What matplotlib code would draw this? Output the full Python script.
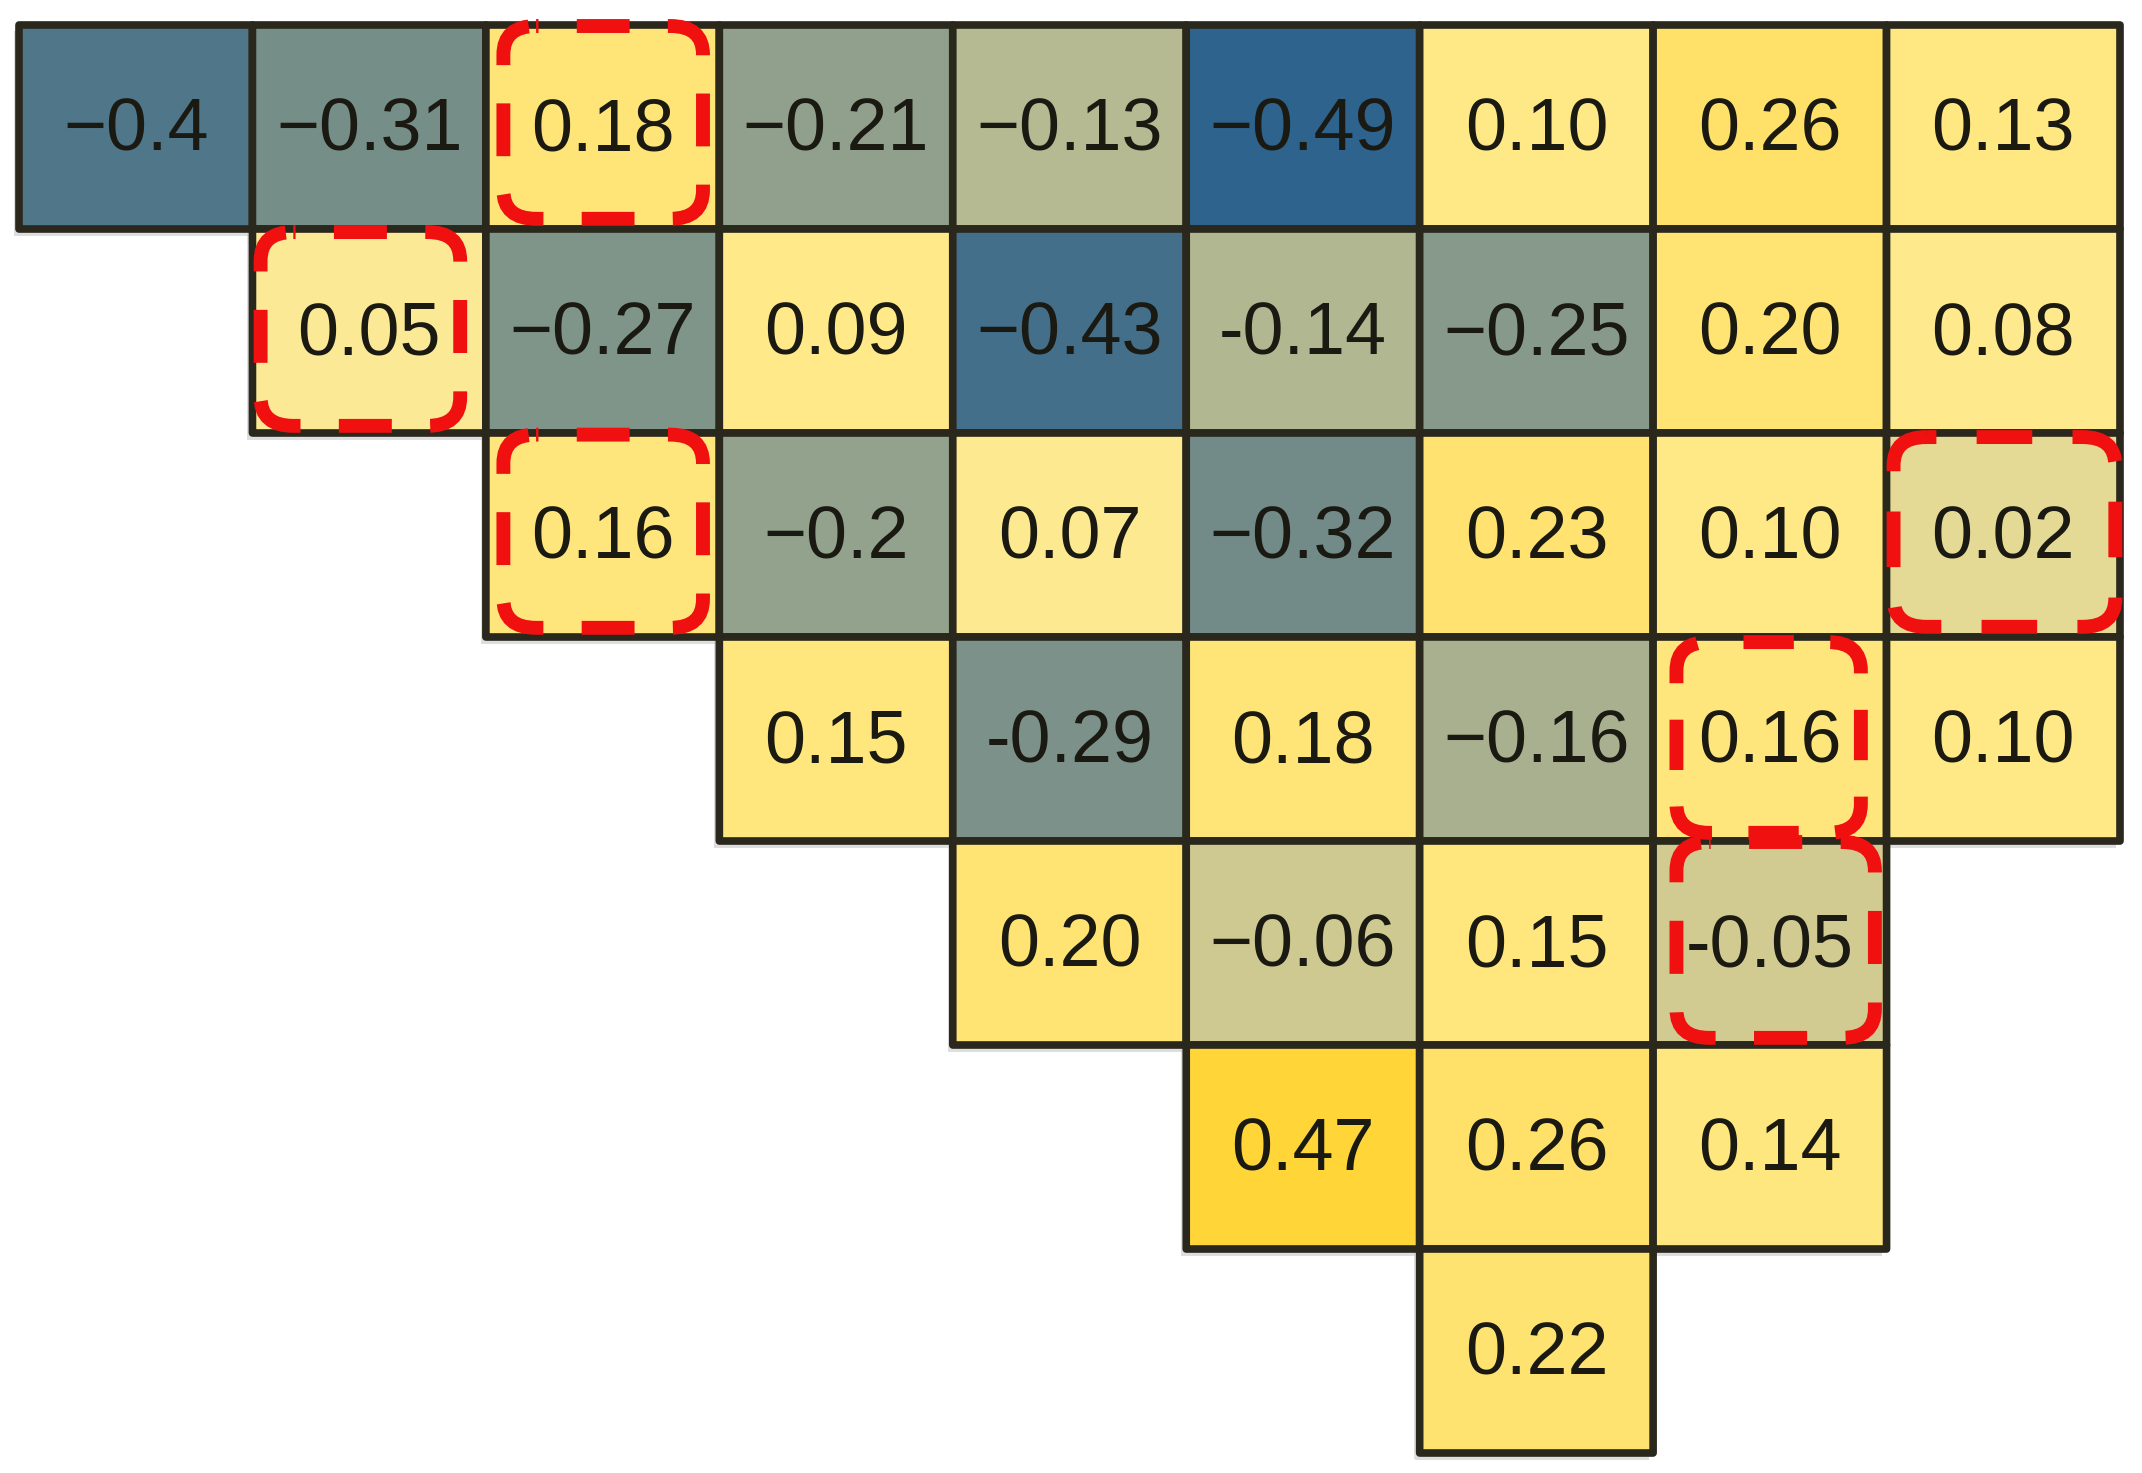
import numpy as np
import matplotlib
matplotlib.use("Agg")
import matplotlib.pyplot as plt
from matplotlib.colors import LinearSegmentedColormap, Normalize
from matplotlib.patches import FancyBboxPatch

# ---- data (upper-triangular matrix, each row starts at row_start column) ----
n_cols = 9
row_start = [0, 1, 2, 3, 4, 5, 6]
row0 = [-0.40, -0.31, 0.18, -0.21, -0.13, -0.49, 0.10, 0.26, 0.13]
row1 = [0.05, -0.27, 0.09, -0.43, -0.14, -0.25, 0.20, 0.08]
row2 = [0.16, -0.20, 0.07, -0.32, 0.23, 0.10, 0.02]
row3 = [0.15, -0.29, 0.18, -0.16, 0.16, 0.10]
row4 = [0.20, -0.06, 0.15, -0.05]
row5 = [0.47, 0.26, 0.14]
row6 = [0.22]

lab0 = ["\u22120.4", "\u22120.31", "0.18", "\u22120.21", "\u22120.13", "\u22120.49", "0.10", "0.26", "0.13"]
lab1 = ["0.05", "\u22120.27", "0.09", "\u22120.43", "-0.14", "\u22120.25", "0.20", "0.08"]
lab2 = ["0.16", "\u22120.2", "0.07", "\u22120.32", "0.23", "0.10", "0.02"]
lab3 = ["0.15", "-0.29", "0.18", "\u22120.16", "0.16", "0.10"]
lab4 = ["0.20", "\u22120.06", "0.15", "-0.05"]
lab5 = ["0.47", "0.26", "0.14"]
lab6 = ["0.22"]

rows = [row0, row1, row2, row3, row4, row5, row6]
labels = [lab0, lab1, lab2, lab3, lab4, lab5, lab6]

# highlighted cells (row, col)
highlight = [(0, 2), (1, 1), (2, 2), (2, 8), (3, 7), (4, 7)]
# insets of the dashed boxes (left, right, top, bottom) in cell units
hl_inset = [(0.075, 0.07, 0.005, 0.05), (0.035, 0.11, 0.015, 0.035),
            (0.075, 0.07, 0.008, 0.045), (0.03, 0.02, 0.02, 0.05),
            (0.10, 0.11, 0.025, 0.04), (0.10, 0.05, 0.005, 0.035)]

# ---- build matrix ----
n_rows = len(rows)
M = np.full((n_rows, n_cols), np.nan)
for r, (s, vals) in enumerate(zip(row_start, rows)):
    M[r, s:s + len(vals)] = vals
Mm = np.ma.masked_invalid(M)

cmap = LinearSegmentedColormap.from_list("bluyel", [
    (0.00, (42/255, 97/255, 140/255)),
    (0.10, (80/255, 118/255, 137/255)),
    (0.19, (118/255, 142/255, 136/255)),
    (0.30, (147/255, 162/255, 140/255)),
    (0.37, (182/255, 186/255, 146/255)),
    (0.45, (210/255, 203/255, 145/255)),
    (0.52, (228/255, 216/255, 150/255)),
    (0.55, (252/255, 234/255, 150/255)),
    (0.60, (255/255, 233/255, 134/255)),
    (0.75, (255/255, 225/255, 108/255)),
    (1.00, (255/255, 212/255, 50/255)),
])
norm = Normalize(-0.5, 0.5)

W, H = 2142, 1473
DPI = 100
fig = plt.figure(figsize=(W / DPI, H / DPI), dpi=DPI)
fig.patch.set_facecolor("white")
left, right, top, bottom = 19, 2120, 25, 1453
ax = fig.add_axes([left / W, 1 - bottom / H, (right - left) / W, (bottom - top) / H])
ax.set_xlim(0, n_cols)
ax.set_ylim(n_rows, 0)
ax.axis("off")
cw = (right - left) / n_cols   # px per x unit
ch = (bottom - top) / n_rows   # px per y unit

# faint shadow
sh = ax.pcolor(np.arange(n_cols + 1) - 0.02, np.arange(n_rows + 1) + 0.03, Mm,
               cmap=LinearSegmentedColormap.from_list("g", ["#c8c8cc", "#c8c8cc"]),
               edgecolors="none", zorder=0)
sh.set_clip_on(False)
sh.set_alpha(0.6)

pc = ax.pcolor(np.arange(n_cols + 1), np.arange(n_rows + 1), Mm, cmap=cmap, norm=norm,
               edgecolors="#2a281c", linewidth=5.5, zorder=1)
pc.set_clip_on(False)

for r, (s, labs) in enumerate(zip(row_start, labels)):
    for k, t in enumerate(labs):
        c = s + k
        ax.text(c + 0.5, r + 0.52, t, ha="center", va="center",
                fontsize=53, family=["Liberation Sans", "DejaVu Sans"],
                color="#1a1a12", zorder=3)

lw = 10.0
rr = 0.14  # rounding (x units)
for (r, c), (il, ir, it, ib) in zip(highlight, hl_inset):
    w = 1 - il - ir
    h = 1 - it - ib
    # perimeter in pixels -> 8 dashes: one per corner, one per side middle
    wpx, hpx, rpx = w * cw, h * ch, rr * cw
    per = 2 * (wpx + hpx) - 8 * rpx + 2 * np.pi * rpx
    period = per / 8.0
    on = 0.58 * period
    off = period - on
    m = (wpx - 2 * rpx) / 2.0            # midpoint of first side from path start
    offset = (-(m - on / 2.0)) % period
    k = 72.0 / DPI / lw                  # px -> dash units (scaled by lw)
    box = FancyBboxPatch((c + il, r + it), w, h,
                         boxstyle=f"round,pad=0,rounding_size={rr}",
                         fill=False, edgecolor="#f01010", linewidth=lw,
                         linestyle=(offset * k, (on * k, off * k)),
                         zorder=4, clip_on=False)
    ax.add_patch(box)

fig.savefig("out.png", dpi=DPI, facecolor="white")
